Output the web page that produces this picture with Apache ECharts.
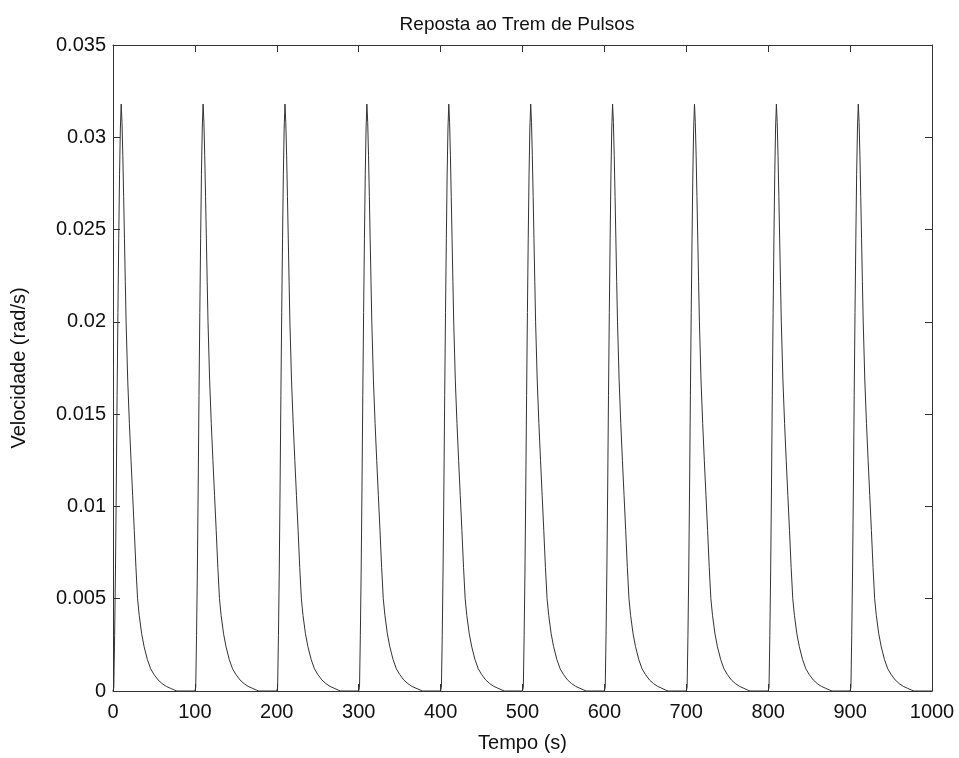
<!DOCTYPE html>
<html>
<head>
<meta charset="utf-8">
<script src="https://cdn.jsdelivr.net/npm/echarts@6/dist/echarts.min.js"></script>
<style>
html,body{margin:0;padding:0;background:#fff;}
#chart{width:959px;height:758px;}
</style>
</head>
<body>
<div id="chart"></div>
<script>
// Pulse start times (s)
var pulseStarts = [0, 100, 200, 300, 400, 500, 600, 700, 800, 900];
// One pulse response: time offset within period (s)
var pulseOffsets = [0, 1, 2, 3, 4, 5, 6, 7, 8, 9, 10, 11, 12, 13, 14, 15, 16, 18, 20, 22, 24, 26, 28, 30, 32, 35, 38, 42, 46, 50, 55, 60, 65, 70, 75, 78, 100];
// Velocity values (rad/s) at those offsets
var pulseValues = [0, 0.0002, 0.003, 0.0065, 0.011, 0.016, 0.0205, 0.0245, 0.028, 0.0305, 0.0318, 0.0308, 0.0290, 0.0268, 0.0245, 0.0222, 0.0200, 0.0168, 0.0145, 0.0125, 0.0106, 0.0087, 0.0067, 0.0050, 0.0041, 0.0031, 0.0024, 0.0017, 0.0012, 0.0009, 0.0006, 0.0004, 0.00025, 0.00015, 0.00005, 0, 0];
var xTicks = [0, 100, 200, 300, 400, 500, 600, 700, 800, 900, 1000];
var yTicks = [0, 0.005, 0.01, 0.015, 0.02, 0.025, 0.03, 0.035];

var data = [];
pulseStarts.forEach(function (s) {
  for (var i = 0; i < pulseOffsets.length; i++) {
    data.push([s + pulseOffsets[i], pulseValues[i]]);
  }
});

var font = 'Liberation Sans, Arial, sans-serif';
var axisColor = '#333';
var chart = echarts.init(document.getElementById('chart'), null, {renderer: 'canvas'});
function common() {
  return {
    axisLine: {show: true, onZero: false, lineStyle: {color: axisColor, width: 1}},
    axisTick: {show: true, inside: true, length: 7, lineStyle: {color: axisColor, width: 1}},
    splitLine: {show: false}
  };
}
chart.setOption({
  backgroundColor: '#fff',
  animation: false,
  title: {
    text: 'Reposta ao Trem de Pulsos',
    left: 512, top: 10, textAlign: 'center',
    textStyle: {fontFamily: font, fontSize: 19, fontWeight: 'normal', color: '#111'}
  },
  grid: {left: 113, right: 27, top: 45, bottom: 60, containLabel: false},
  xAxis: [
    Object.assign({
      type: 'value', min: xTicks[0], max: xTicks[xTicks.length - 1], interval: 100,
      name: 'Tempo (s)', nameLocation: 'middle', nameGap: 42,
      nameTextStyle: {fontFamily: font, fontSize: 20, color: '#111'},
      axisLabel: {fontFamily: font, fontSize: 20, color: '#111', margin: 11,
        formatter: function (v) { return String(v); }}
    }, common()),
    Object.assign({
      type: 'value', position: 'top', min: xTicks[0], max: xTicks[xTicks.length - 1], interval: 100,
      axisLabel: {show: false}
    }, common())
  ],
  yAxis: [
    Object.assign({
      type: 'value', min: yTicks[0], max: yTicks[yTicks.length - 1], interval: 0.005,
      name: 'Velocidade (rad/s)', nameLocation: 'middle', nameGap: 84,
      nameTextStyle: {fontFamily: font, fontSize: 20, color: '#111'},
      axisLabel: {fontFamily: font, fontSize: 20, color: '#111', margin: 7,
        formatter: function (v) { return String(+v.toFixed(3)); }}
    }, common()),
    Object.assign({
      type: 'value', position: 'right', min: yTicks[0], max: yTicks[yTicks.length - 1], interval: 0.005,
      axisLabel: {show: false}
    }, common())
  ],
  series: [{
    type: 'line',
    data: data,
    showSymbol: false,
    symbol: 'none',
    lineStyle: {color: '#333', width: 1},
    xAxisIndex: 0, yAxisIndex: 0
  }]
});
</script>
</body>
</html>
